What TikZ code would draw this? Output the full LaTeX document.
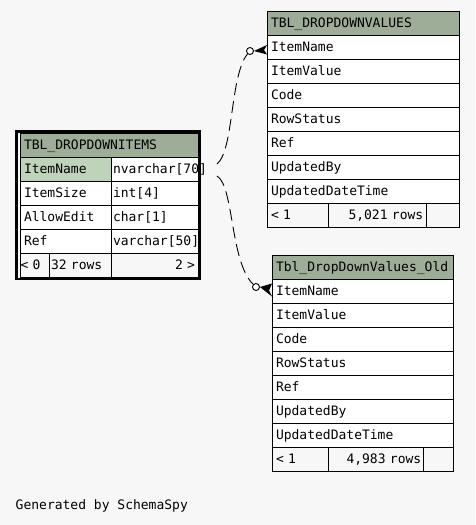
\documentclass[tikz,border=0pt]{standalone}
\usepackage{fontspec}
\setmonofont{DejaVu Sans Mono}
\newcommand\tblfont{\ttfamily\fontsize{13}{15}\selectfont}
\definecolor{bg}{HTML}{F7F7F7}
\definecolor{hdr}{HTML}{9DAD97}
\definecolor{hl}{HTML}{BFD2BA}
\tikzset{
  cell/.style={draw=black, line width=1pt, fill=white, anchor=north west,
    minimum height=24pt, inner ysep=0pt, inner xsep=3.5pt,
    text height=9.5pt, text depth=1.5pt, font=\tblfont, align=left},
  head/.style={cell, fill=hdr},
  foot/.style={cell, fill=bg},
  odot/.style={circle, draw=black, line width=0.9pt, minimum size=7pt, inner sep=0pt, fill=white},
  rel/.style={draw=black, line width=0.9pt, dash pattern=on 12pt off 6pt},
}
\begin{document}
\begin{tikzpicture}[x=1pt,y=-1pt]
\useasboundingbox (0,0) rectangle (475,525);
\fill[bg] (0,0) rectangle (475,525);

% ---- TBL_DROPDOWNITEMS
\node[head, inner xsep=4pt, text width=170pt] (ih) at (19.5,133) {TBL\_DROPDOWNITEMS};
\node[cell, fill=hl, inner xsep=4pt, text width=83.5pt] (i1l) at (19.5,157) {ItemName};
\node[cell, inner xsep=1.5pt, text width=83.5pt] (i1r) at (111,157) {\mbox{nvarchar[70]}};
\node[cell, inner xsep=4pt, text width=83.5pt] (i2l) at (19.5,181) {ItemSize};
\node[cell, inner xsep=1.5pt, text width=83.5pt] (i2r) at (111,181) {int[4]};
\node[cell, inner xsep=4pt, text width=83.5pt] (i3l) at (19.5,205) {AllowEdit};
\node[cell, inner xsep=1.5pt, text width=83.5pt] (i3r) at (111,205) {char[1]};
\node[cell, inner xsep=4pt, text width=83.5pt] (i4l) at (19.5,229) {Ref};
\node[cell, inner xsep=1.5pt, text width=83.5pt] (i4r) at (111,229) {\mbox{varchar[50]}};
\node[foot, inner xsep=0.5pt, text width=28.5pt] (if1) at (19.5,253) {\mbox{< 0}};
\node[foot, inner xsep=1.5pt, text width=59pt] (if2) at (49,253) {\mbox{32 rows}};
\node[foot, inner xsep=3pt, text width=80.5pt, align=right] (if3) at (111,253) {\mbox{2 >}};
\draw[line width=2.7pt] (16.3,131.3) rectangle (199.6,279);

% ---- TBL_DROPDOWNVALUES
\node[head, text width=185pt] (vh) at (267,11) {TBL\_DROPDOWNVALUES};
\node[cell, text width=185pt] (v1) at (267,35) {ItemName};
\node[cell, text width=185pt] (v2) at (267,59) {ItemValue};
\node[cell, text width=185pt] (v3) at (267,83) {Code};
\node[cell, text width=185pt] (v4) at (267,107) {RowStatus};
\node[cell, text width=185pt] (v5) at (267,131) {Ref};
\node[cell, text width=185pt] (v6) at (267,155) {UpdatedBy};
\node[cell, text width=185pt] (v7) at (267,179) {UpdatedDateTime};
\node[foot, text width=54pt] (vf1) at (267,203) {\mbox{< 1}};
\node[foot, inner xsep=20pt, text width=58pt] (vf2) at (328,203) {\mbox{5,021 rows}};
\node[foot, text width=26pt] (vf3) at (426,203) {};

% ---- Tbl_DropDownValues_Old
\node[head, text width=174pt] (wh) at (272,255) {Tbl\_DropDownValues\_Old};
\node[cell, text width=174pt] (w1) at (272,279) {ItemName};
\node[cell, text width=174pt] (w2) at (272,303) {ItemValue};
\node[cell, text width=174pt] (w3) at (272,327) {Code};
\node[cell, text width=174pt] (w4) at (272,351) {RowStatus};
\node[cell, text width=174pt] (w5) at (272,375) {Ref};
\node[cell, text width=174pt] (w6) at (272,399) {UpdatedBy};
\node[cell, text width=174pt] (w7) at (272,423) {UpdatedDateTime};
\node[foot, text width=49pt] (wf1) at (272,447) {\mbox{< 1}};
\node[foot, inner xsep=18pt, text width=59pt] (wf2) at (328,447) {\mbox{4,983 rows}};
\node[foot, text width=23pt] (wf3) at (423,447) {};

% ---- relationships
\coordinate (s1) at (217,164);
\coordinate (s2) at (217,176);
\node[odot] (c1) at (250,51) {};
\node[odot] (c2) at (256,287) {};
\draw[rel] (s1) .. controls (234,150) and (230,75) .. (c1);
\draw[rel] (s2) .. controls (234,186) and (230,262) .. (c2);
\fill (c1.east) -- ([yshift=2.5pt]v1.west) -- ([xshift=-3pt,yshift=-2.5pt]v1.west) -- ([yshift=-7pt]v1.west) -- cycle;
\fill (c2.east) -- ([yshift=8pt]w1.west) -- ([xshift=-3pt,yshift=1pt]w1.west) -- ([yshift=-5pt]w1.west) -- cycle;

\node[anchor=west, font=\tblfont, inner sep=0pt] (gen) at (15.5,506) {Generated by SchemaSpy};
\end{tikzpicture}
\end{document}
